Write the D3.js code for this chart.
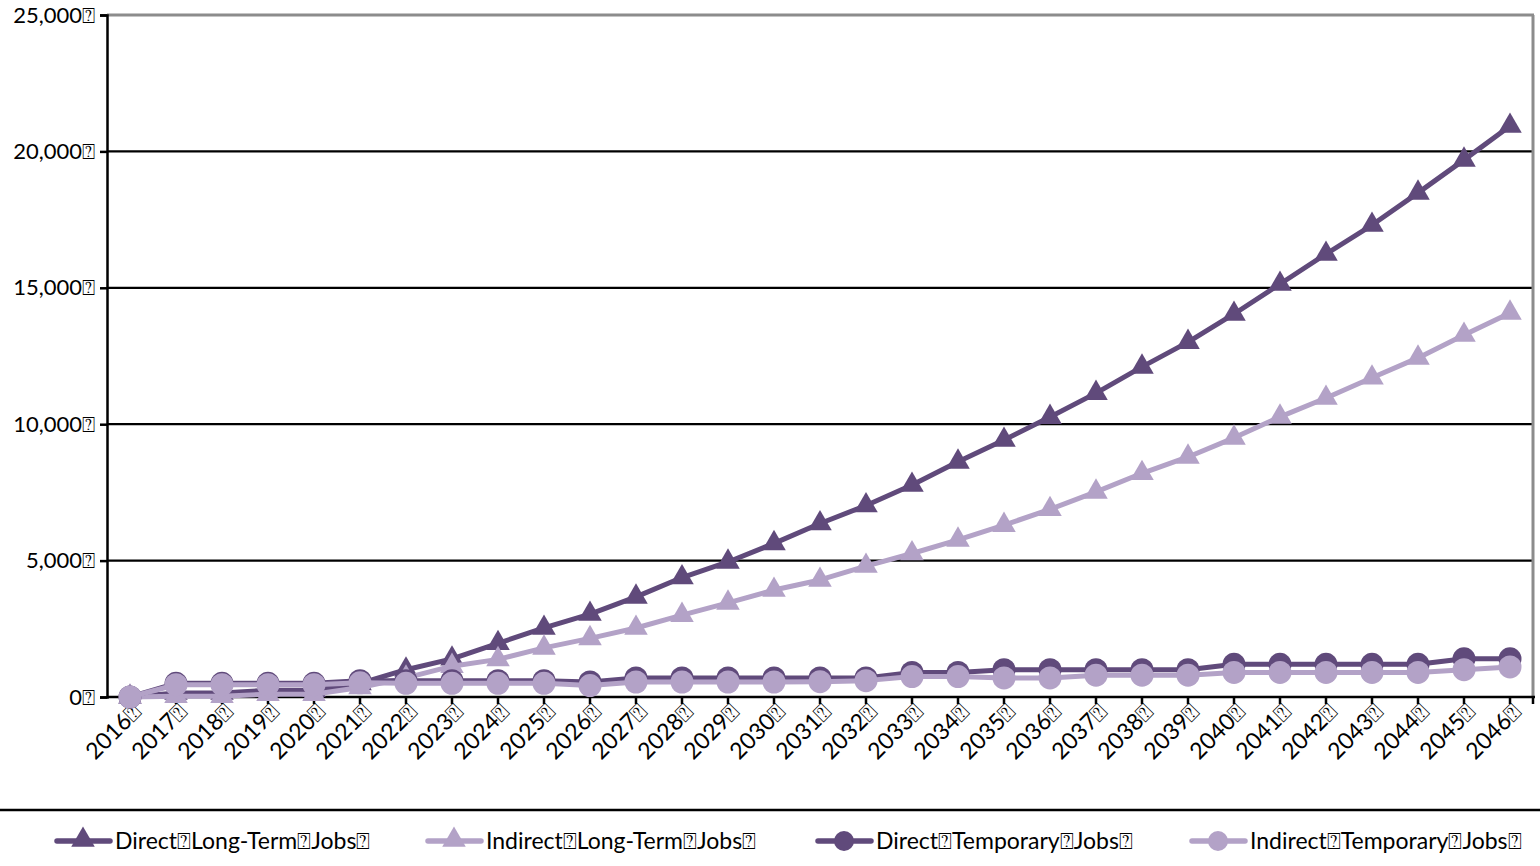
<!DOCTYPE html>
<html><head><meta charset="utf-8">
<script src="https://cdn.jsdelivr.net/npm/d3@7/dist/d3.min.js"></script>
<style>
body{margin:0;background:#fff}
svg text{font-family:Lato,"Open Sans","DejaVu Sans",sans-serif;fill:#000}
</style>
</head><body>
<svg id="chart" width="1540" height="866"></svg>
<script>
const BOX = "\u2370";
const years = ["2016","2017","2018","2019","2020","2021","2022","2023","2024","2025","2026","2027","2028","2029","2030","2031","2032","2033","2034","2035","2036","2037","2038","2039","2040","2041","2042","2043","2044","2045","2046"];
const yTicks = [0,5000,10000,15000,20000,25000];
const seriesNames = ["Direct"+BOX+"Long-Term"+BOX+"Jobs"+BOX, "Indirect"+BOX+"Long-Term"+BOX+"Jobs"+BOX, "Direct"+BOX+"Temporary"+BOX+"Jobs"+BOX, "Indirect"+BOX+"Temporary"+BOX+"Jobs"+BOX];
const directLongTerm   = [0,150,150,250,250,500,1000,1400,1970,2530,3040,3670,4380,4950,5630,6360,7020,7770,8620,9420,10260,11140,12100,13010,14040,15140,16240,17300,18480,19690,20930];
const indirectLongTerm = [0,30,30,100,100,350,700,1130,1380,1800,2150,2530,3000,3450,3920,4290,4800,5260,5760,6300,6880,7520,8200,8800,9500,10270,10960,11700,12430,13270,14080];
const directTemporary  = [0,500,500,500,500,600,600,600,600,600,550,700,700,700,700,700,700,900,900,1000,1000,1000,1000,1000,1200,1200,1200,1200,1200,1400,1400];
const indirectTemporary= [0,450,450,450,450,520,500,500,500,500,420,550,550,550,550,560,600,750,750,700,700,800,800,800,900,900,900,900,900,1000,1100];

const seriesValues = [directLongTerm, indirectLongTerm, directTemporary, indirectTemporary];
const seriesColors = ["#604a7b","#b3a2c7","#604a7b","#b3a2c7"];
const seriesMarkers = ["triangle","triangle","circle","circle"];

const svg = d3.select("#chart");
const L = 107, R = 1533, T = 15, B = 697;
const x = d3.scaleBand().domain(years).range([L, R]);
const cx = d => x(d) + x.bandwidth()/2;
const y = d3.scaleLinear().domain([0,25000]).range([B, T]);

// gridlines
svg.append("g").selectAll("line").data(yTicks.filter(v=>v>0 && v<25000)).join("line")
  .attr("x1", L).attr("x2", R).attr("y1", d=>y(d)).attr("y2", d=>y(d))
  .attr("stroke","#000").attr("stroke-width",2.2);
// plot border top/right
svg.append("line").attr("x1",L).attr("x2",R+1).attr("y1",y(25000)).attr("y2",y(25000)).attr("stroke","#8c8c8c").attr("stroke-width",3);
svg.append("line").attr("x1",R).attr("x2",R).attr("y1",T).attr("y2",B).attr("stroke","#8c8c8c").attr("stroke-width",3);

// y axis
const yAxis = svg.append("g").attr("transform",`translate(${L},0)`)
  .call(d3.axisLeft(y).tickValues(yTicks).tickSize(7).tickPadding(5).tickFormat(d=>d3.format(",")(d)+BOX));
yAxis.select(".domain").attr("stroke","#000").attr("stroke-width",2.5);
yAxis.selectAll(".tick line").attr("stroke","#000").attr("stroke-width",2.5);
yAxis.selectAll("text").attr("font-size",22).style("font-family","Lato,'Open Sans',sans-serif");

// x axis
const xAxis = svg.append("g").attr("transform",`translate(0,${B})`);
xAxis.append("line").attr("x1",L).attr("x2",R+2).attr("y1",0).attr("y2",0).attr("stroke","#000").attr("stroke-width",2.5);
xAxis.selectAll("line.tk").data(years).join("line").attr("class","tk")
  .attr("x1",d=>cx(d)).attr("x2",d=>cx(d)).attr("y1",0).attr("y2",7).attr("stroke","#000").attr("stroke-width",2.5);
xAxis.append("line").attr("x1",R).attr("x2",R).attr("y1",0).attr("y2",7).attr("stroke","#000").attr("stroke-width",2.5);
xAxis.selectAll("text").data(years).join("text")
  .attr("transform",d=>`translate(${cx(d)+13},${16}) rotate(-45)`)
  .attr("text-anchor","end").attr("font-size",23)
  .text(d=>d+BOX);

// series
const line = d3.line().x((d,i)=>cx(years[i])).y(d=>y(d));
const triPath = d3.symbol(d3.symbolTriangle, 240)();
seriesValues.forEach((vals, si) => {
  const g = svg.append("g");
  g.append("path").attr("d", line(vals)).attr("fill","none")
    .attr("stroke", seriesColors[si]).attr("stroke-width",5).attr("stroke-linejoin","round");
  if (seriesMarkers[si] === "triangle") {
    g.selectAll("path.m").data(vals).join("path").attr("class","m")
      .attr("d", triPath).attr("transform",(d,i)=>`translate(${cx(years[i])},${y(d)})`)
      .attr("fill", seriesColors[si]);
  } else {
    g.selectAll("circle").data(vals).join("circle")
      .attr("cx",(d,i)=>cx(years[i])).attr("cy",d=>y(d)).attr("r",11.5)
      .attr("fill", seriesColors[si]);
  }
});

// separator
svg.append("line").attr("x1",0).attr("x2",1540).attr("y1",810).attr("y2",810).attr("stroke","#000").attr("stroke-width",2.5);

// legend
const legendX = [57, 428, 818, 1192];
seriesNames.forEach((name, si) => {
  const g = svg.append("g").attr("transform",`translate(${legendX[si]},841)`);
  g.append("line").attr("x1",0).attr("x2",53).attr("y1",0).attr("y2",0)
    .attr("stroke",seriesColors[si]).attr("stroke-width",5.5).attr("stroke-linecap","round");
  if (seriesMarkers[si]==="triangle") g.append("path").attr("d", triPath).attr("transform","translate(26,-1)").attr("fill",seriesColors[si]);
  else g.append("circle").attr("cx",26).attr("cy",0).attr("r",10).attr("fill",seriesColors[si]);
  g.append("text").attr("x",58).attr("y",8).attr("font-size",23).text(name);
});
</script>
</body></html>
